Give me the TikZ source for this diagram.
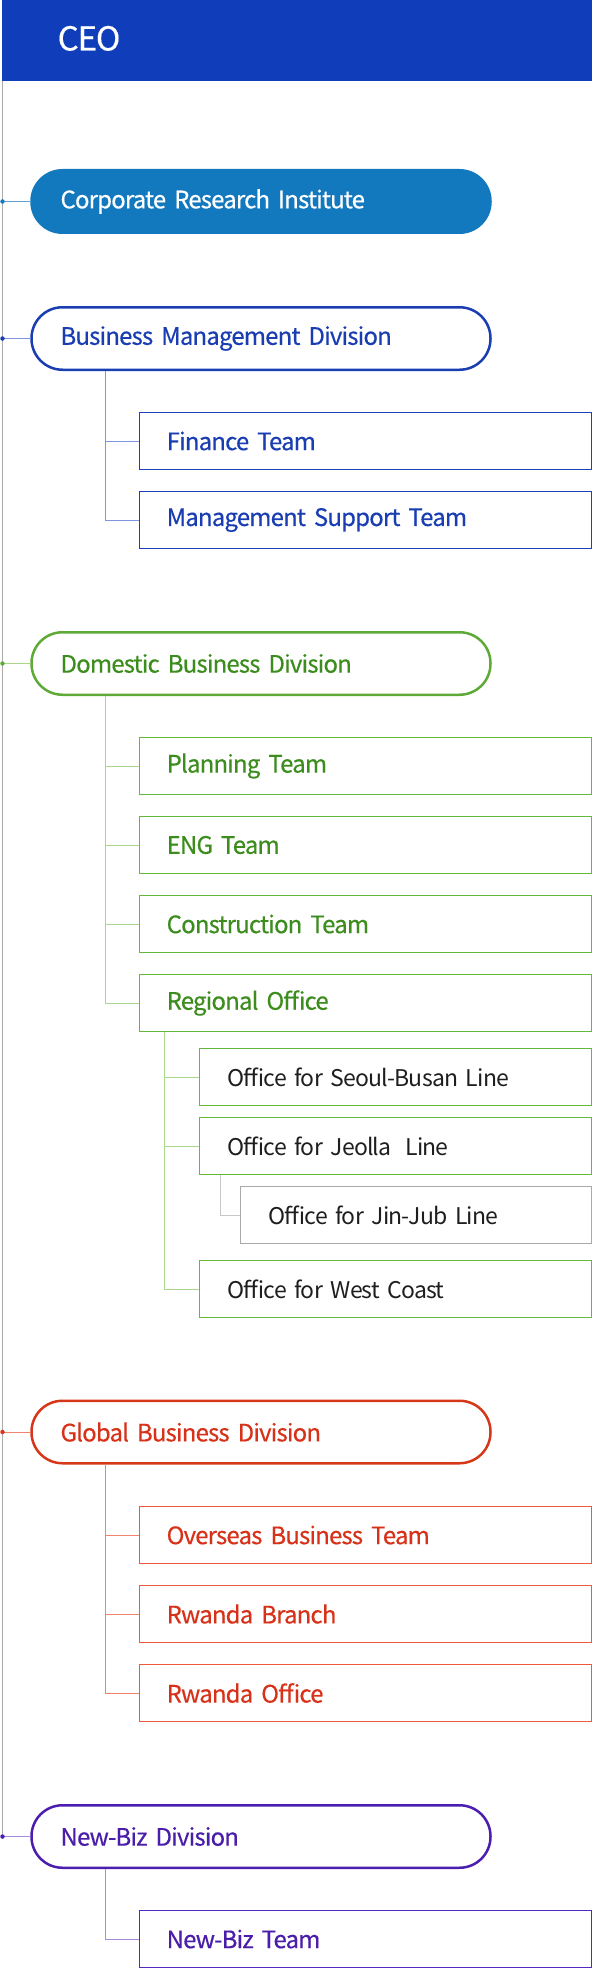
\documentclass[tikz,border=0pt]{standalone}
\usepackage{fontspec}
\setmainfont{Noto Sans CJK KR}[LetterSpace=-3.5]
\newfontfamily\boldish{Noto Sans CJK KR}[LetterSpace=-3.5, FakeBold=0.4]
\newcommand\tightsp{\spaceskip=0.2em plus 0.05em minus 0.05em\relax}
\usetikzlibrary{calc}
\definecolor{ceoC}{RGB}{16,62,187}
\definecolor{criC}{RGB}{19,121,190}
\definecolor{criL}{RGB}{100,160,210}
\definecolor{bluT}{RGB}{26,62,178}
\definecolor{bluB}{RGB}{30,65,185}
\definecolor{bluL}{RGB}{125,150,225}
\definecolor{grnT}{RGB}{60,140,30}
\definecolor{grnP}{RGB}{95,170,55}
\definecolor{grnB}{RGB}{100,185,60}
\definecolor{grnL}{RGB}{170,215,140}
\definecolor{redT}{RGB}{215,50,25}
\definecolor{redP}{RGB}{215,55,25}
\definecolor{redB}{RGB}{240,90,60}
\definecolor{redL}{RGB}{240,130,110}
\definecolor{purT}{RGB}{75,30,170}
\definecolor{purP}{RGB}{75,30,175}
\definecolor{purB}{RGB}{85,40,195}
\definecolor{purL}{RGB}{165,140,225}
\definecolor{offT}{RGB}{30,30,30}
\definecolor{grayB}{RGB}{170,170,170}
\definecolor{grayL}{RGB}{200,200,200}
\definecolor{mainL}{RGB}{170,170,170}
\tikzset{
  pill/.style={draw=#1, line width=2.5pt, rounded corners=31pt, anchor=west,
    minimum height=62.5pt, text width=401pt, inner xsep=29pt, inner ysep=0pt,
    align=left, font=\boldish\fontsize{24}{28}\selectfont\tightsp},
  teambox/.style={draw=#1, line width=1.3pt, anchor=west,
    minimum height=57.5pt, text width=397.5pt, inner xsep=27pt, inner ysep=0pt,
    align=left, font=\boldish\fontsize{24}{28}\selectfont\tightsp},
  officebox/.style={draw=#1, line width=1.3pt, anchor=west,
    minimum height=57.5pt, text width=336pt, inner xsep=28pt, inner ysep=0pt,
    align=left, text=offT, font=\fontsize{23}{28}\selectfont\tightsp},
  subbox/.style={draw=#1, line width=1.3pt, anchor=west,
    minimum height=57.5pt, text width=295pt, inner xsep=28pt, inner ysep=0pt,
    align=left, text=offT, font=\fontsize{23}{28}\selectfont\tightsp},
  dotmark/.style={fill=#1, circle, inner sep=0pt, minimum size=4.5pt},
  link/.style={draw=#1, line width=1pt}
}
\begin{document}
\begin{tikzpicture}[x=1pt,y=-1pt]
\useasboundingbox (0,0) rectangle (592,1969);
% CEO band
\fill[ceoC] (2,0) rectangle (592,81);
\node[anchor=base west, text=white, inner sep=0pt, font=\boldish\fontsize{33}{36}\selectfont] (ceo) at (57.5,50.5) {CEO};
\coordinate (top) at (2.5,81);
\coordinate (dNB) at (2.5,1836.5);
\draw[mainL, line width=1pt] (top) -- (dNB);

% Corporate Research Institute
\node[pill=criC, fill=criC, text=white] (cri) at (30.25,201.5) {Corporate Research Institute};
\coordinate (dCRI) at (2.5,201.5);
\draw[link=criL] (dCRI) -- (cri.west);
\node[dotmark=criC] at (dCRI) {};

% Business Management Division
\node[pill=bluT, text=bluT] (bmd) at (30.25,338.5) {Business Management Division};
\coordinate (dBMD) at (2.5,338.5);
\draw[link=bluL] (dBMD) -- (bmd.west);
\node[dotmark=bluT] at (dBMD) {};
\node[teambox=bluB, text=bluT] (fin) at (139,441) {Finance Team};
\node[teambox=bluB, text=bluT] (mst) at (139,520) {Management Support Team};
\coordinate (bmdT) at (105.7,371);
\draw[link=bluL] (bmdT) |- (mst.west);
\draw[link=bluL] (bmdT |- fin.west) -- (fin.west);

% Domestic Business Division
\node[pill=grnP, text=grnT] (dom) at (30.25,663.5) {Domestic Business Division};
\coordinate (dDOM) at (2.5,663.5);
\draw[link=grnL] (dDOM) -- (dom.west);
\node[dotmark=grnP] at (dDOM) {};
\node[teambox=grnB, text=grnT] (pla) at (139,766) {Planning Team};
\node[teambox=grnB, text=grnT] (eng) at (139,845) {ENG Team};
\node[teambox=grnB, text=grnT] (con) at (139,924) {Construction Team};
\node[teambox=grnB, text=grnT] (reg) at (139,1003) {Regional Office};
\coordinate (domT) at (105.7,696);
\draw[link=grnL] (domT) |- (reg.west);
\draw[link=grnL] (domT |- pla.west) -- (pla.west);
\draw[link=grnL] (domT |- eng.west) -- (eng.west);
\draw[link=grnL] (domT |- con.west) -- (con.west);
\node[officebox=grnB] (sb) at (198.5,1077) {Office for Seoul-Busan Line};
\node[officebox=grnB] (jl) at (198.5,1146) {Office for Jeolla\hspace*{0.6em}Line};
\node[subbox=grayB] (jj) at (239.5,1215) {Office for Jin-Jub Line};
\node[officebox=grnB] (wc) at (198.5,1289) {Office for West Coast};
\coordinate (regT) at (164.2,1032.3);
\draw[link=grnL] (regT) |- (wc.west);
\draw[link=grnL] (regT |- sb.west) -- (sb.west);
\draw[link=grnL] (regT |- jl.west) -- (jl.west);
\coordinate (jlT) at (220.5,1175.3);
\draw[link=grayL] (jlT) |- (jj.west);

% Global Business Division
\node[pill=redP, text=redT] (glb) at (30.25,1432) {Global Business Division};
\coordinate (dGLB) at (2.5,1432);
\draw[link=redL] (dGLB) -- (glb.west);
\node[dotmark=redP] at (dGLB) {};
\node[teambox=redB, text=redT] (ovs) at (139,1535) {Overseas Business Team};
\node[teambox=redB, text=redT] (rwb) at (139,1614) {Rwanda Branch};
\node[teambox=redB, text=redT] (rwo) at (139,1693) {Rwanda Office};
\coordinate (glbT) at (105.7,1464.3);
\draw[link=redL] (glbT) |- (rwo.west);
\draw[link=redL] (glbT |- ovs.west) -- (ovs.west);
\draw[link=redL] (glbT |- rwb.west) -- (rwb.west);

% New-Biz Division
\node[pill=purP, text=purT] (nbd) at (30.25,1836.5) {New-Biz Division};
\draw[link=purL] (dNB) -- (nbd.west);
\node[dotmark=purP] at (dNB) {};
\node[teambox=purB, text=purT] (nbt) at (139,1939) {New-Biz Team};
\coordinate (nbdT) at (105.7,1869);
\draw[link=purL] (nbdT) |- (nbt.west);
\end{tikzpicture}
\end{document}
